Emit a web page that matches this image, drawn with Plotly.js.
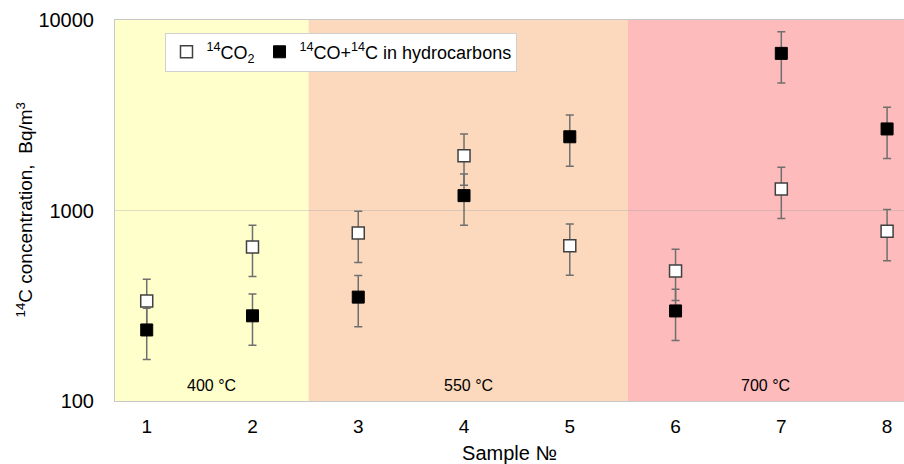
<!DOCTYPE html>
<html><head><meta charset="utf-8">
<script src="https://cdn.plot.ly/plotly-3.0.1.min.js"></script>
<style>html,body{margin:0;padding:0;background:#fff}</style>
</head><body>
<div id="chart" style="width:904px;height:464px"></div>
<script>
const samples = [1, 2, 3, 4, 5, 6, 7, 8];
const co2 = [335, 643, 762, 1941, 653, 481, 1297, 778];
const coHydro = [236, 280, 351, 1197, 2438, 297, 6680, 2680];
const errorPercent = 30;
const regionLabels = ['400 °C', '550 °C', '700 °C'];
const regionBounds = [[0.7, 2.53], [2.53, 5.55], [5.55, 8.16]];
const regionColors = ['#FFFFCC', '#FCD9BD', '#FDBBBB'];
const yTitle = '<sup>14</sup>C concentration,  Bq/m<sup>3</sup>';

const font = 'Liberation Sans, Arial, sans-serif';
const errStyle = {type: 'percent', value: errorPercent, color: '#6f6f6f', thickness: 1.5, width: 4};

const traces = [
  {x: samples, y: co2, type: 'scatter', mode: 'markers', name: '<sup>14</sup>CO<sub>2</sub>',
   marker: {symbol: 'square', size: 12, color: '#ffffff', line: {color: '#404040', width: 1.5}},
   error_y: errStyle},
  {x: samples, y: coHydro, type: 'scatter', mode: 'markers', name: '<sup>14</sup>CO+<sup>14</sup>C in hydrocarbons',
   marker: {symbol: 'square', size: 12, color: '#000000', line: {color: '#000000', width: 1}},
   error_y: errStyle}
];

const shapes = regionBounds.map((b, i) => ({
  type: 'rect', xref: 'x', yref: 'paper', x0: b[0], x1: b[1], y0: 0, y1: 1,
  fillcolor: regionColors[i], line: {width: 0}, layer: 'below'
}));
const annotations = regionBounds.map((b, i) => ({
  x: (b[0] + b[1]) / 2, y: 2.08, xref: 'x', yref: 'y', text: regionLabels[i],
  showarrow: false, font: {family: font, size: 16, color: '#000'}
}));
annotations.push({
  x: -(115 - 24) / 789, y: 0.5, xref: 'paper', yref: 'paper', xanchor: 'center', yanchor: 'middle',
  text: yTitle, textangle: -90, showarrow: false, font: {family: font, size: 19, color: '#000'}
});

const layout = {
  width: 904, height: 464,
  margin: {l: 115, r: 0, t: 20, b: 63},
  paper_bgcolor: '#ffffff', plot_bgcolor: '#ffffff',
  showlegend: true,
  legend: {x: 0.064, y: 0.967, xanchor: 'left', yanchor: 'top', orientation: 'h',
    bgcolor: '#ffffff', bordercolor: '#d0d0d0', borderwidth: 1,
    font: {family: font, size: 18, color: '#000'}, itemwidth: 20},
  xaxis: {range: [0.7, 8.16], tickvals: samples, ticktext: samples.map(String),
    showgrid: false, zeroline: false, showline: true, linecolor: '#c8c8c8', mirror: true,
    ticks: 'outside', ticklen: 8, tickcolor: 'rgba(0,0,0,0)',
    tickfont: {family: font, size: 19, color: '#000'},
    title: {text: 'Sample №', font: {family: font, size: 20, color: '#000'}, standoff: 11}},
  yaxis: {type: 'log', range: [2, 4], tickvals: [100, 1000, 10000], ticktext: ['100', '1000', '10000'],
    showgrid: true, gridcolor: 'rgba(160,160,160,0.35)', zeroline: false,
    showline: true, linecolor: '#c8c8c8', mirror: true,
    ticks: 'outside', ticklen: 16, tickcolor: 'rgba(0,0,0,0)',
    tickfont: {family: font, size: 20, color: '#000'}},
  shapes: shapes,
  annotations: annotations
};

Plotly.newPlot('chart', traces, layout, {displayModeBar: false, staticPlot: true});
</script>
</body></html>
